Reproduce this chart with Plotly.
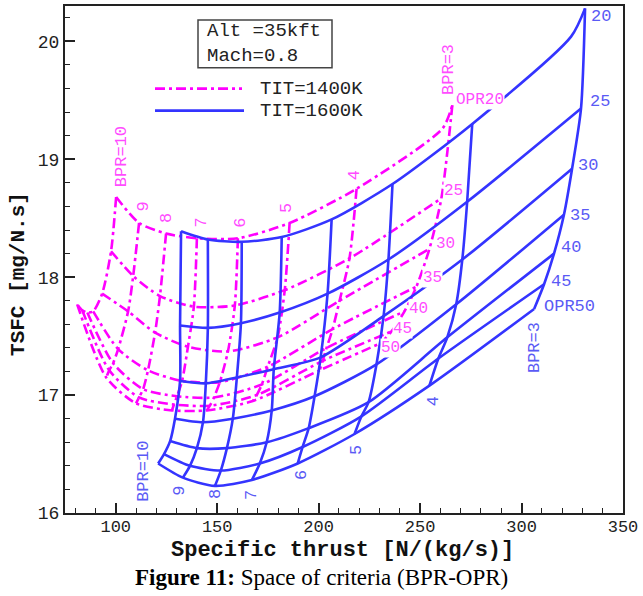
import plotly.graph_objects as go

BPR = [10, 9, 8, 7, 6, 5, 4, 3]
OPR = [20, 25, 30, 35, 40, 45, 50]

# TIT = 1600K : specific thrust [N/(kg/s)] and TSFC [mg/N.s]; rows = OPR, columns = BPR
st_1600 = [
    [132.2, 145.4, 162.1, 181.8, 206.4, 236.4, 275.7, 331.3],
    [131.7, 145.4, 161.7, 180.8, 204.4, 234.4, 273.2, 329.3],
    [131.7, 144.4, 159.7, 177.9, 201.0, 232.0, 270.8, 324.9],
    [129.2, 143.0, 157.7, 176.9, 198.0, 228.5, 267.8, 320.9],
    [126.8, 140.0, 154.8, 174.4, 195.1, 224.6, 263.4, 316.0],
    [123.8, 136.6, 151.8, 171.0, 192.1, 221.1, 259.0, 311.1],
    [120.9, 133.1, 148.9, 167.1, 189.7, 217.7, 254.6, 306.2],
]
tsfc_1600 = [
    [18.39, 18.32, 18.30, 18.34, 18.49, 18.79, 19.30, 20.28],
    [17.59, 17.57, 17.61, 17.70, 17.86, 18.15, 18.64, 19.43],
    [17.12, 17.10, 17.15, 17.22, 17.32, 17.67, 18.15, 18.92],
    [16.80, 16.77, 16.80, 16.87, 16.99, 17.26, 17.77, 18.53],
    [16.61, 16.55, 16.55, 16.60, 16.72, 16.94, 17.49, 18.20],
    [16.50, 16.40, 16.36, 16.42, 16.56, 16.82, 17.31, 17.94],
    [16.42, 16.30, 16.23, 16.28, 16.42, 16.67, 17.08, 17.73],
]
kink_1600 = (324.4, 20.04)   # extra point on OPR20 line between BPR 4 and 3

# TIT = 1400K
st_1400 = [
    [100.2, 111.5, 124.8, 140.0, 160.2, 185.7, 218.7, 265.9],
    [97.7, 108.6, 121.8, 138.5, 158.7, 183.3, 215.2, 260.5],
    [93.3, 106.1, 119.4, 135.6, 155.3, 179.8, 210.3, 254.6],
    [88.9, 101.2, 115.9, 132.7, 151.3, 174.9, 206.9, 248.2],
    [86.0, 98.7, 113.5, 130.2, 148.4, 172.0, 203.9, 242.3],
    [83.5, 96.8, 111.5, 128.7, 146.4, 169.5, 202.0, 235.9],
    [81.0, 95.3, 110.0, 127.7, 144.9, 167.6, 200.5, 230.5],
]
tsfc_1400 = [
    [18.68, 18.46, 18.37, 18.33, 18.33, 18.46, 18.75, 19.46],
    [18.22, 18.01, 17.84, 17.75, 17.76, 17.89, 18.16, 18.67],
    [17.86, 17.71, 17.53, 17.41, 17.37, 17.49, 17.80, 18.24],
    [17.71, 17.39, 17.21, 17.12, 17.11, 17.24, 17.56, 17.92],
    [17.70, 17.27, 17.05, 16.99, 16.98, 17.09, 17.40, 17.71],
    [17.72, 17.21, 16.98, 16.92, 16.91, 17.00, 17.29, 17.54],
    [17.77, 17.15, 16.93, 16.87, 16.87, 16.95, 17.21, 17.44],
]
kink_1400 = (261.0, 19.26)

# label texts and positions (data coords)
blue_row_labels = [("20", 339.0, 20.21), ("25", 338.6, 19.49), ("30", 332.7, 18.95),
                   ("35", 328.8, 18.52), ("40", 324.2, 18.25), ("45", 319.3, 17.96),
                   ("OPR50", 323.4, 17.75)]
blue_col_labels = [("BPR=10", 114.0, 16.35), ("9", 131.7, 16.19), ("8", 148.9, 16.16),
                   ("7", 167.0, 16.15), ("6", 191.2, 16.32), ("5", 218.7, 16.53),
                   ("4", 257.0, 16.95), ("BPR=3", 306.7, 17.40)]
mag_row_labels = [("OPR20", 279.6, 19.50), ("25", 266.4, 18.73), ("30", 262.4, 18.28),
                  ("35", 256.0, 17.99), ("40", 249.2, 17.73), ("45", 241.3, 17.56),
                  ("50", 235.4, 17.40)]
mag_col_labels = [("BPR=10", 103.2, 19.02), ("9", 113.5, 18.60), ("8", 125.1, 18.50),
                  ("7", 142.3, 18.46), ("6", 161.7, 18.46), ("5", 184.1, 18.59),
                  ("4", 217.7, 18.86), ("BPR=3", 263.9, 19.76)]

BLUE = "#3434ff"
MAG = "#ff00ff"
BLUE_TXT = "#5a5af5"
MAG_TXT = "#ff4cff"
MAG_DASH = "10px,4px,3px,4px"
MONO = "Liberation Mono"

fig = go.Figure()


def add_grid(st, ts, kink, color, dash):
    for i in range(len(OPR)):
        xs = list(st[i])
        ys = list(ts[i])
        if i == 0:
            xs.insert(7, kink[0])
            ys.insert(7, kink[1])
        fig.add_trace(go.Scatter(x=xs, y=ys, mode="lines",
                                 line=dict(color=color, width=2.6, dash=dash,
                                           shape="spline", smoothing=0.7),
                                 hoverinfo="skip"))
    for j in range(len(BPR)):
        xs = [st[i][j] for i in range(len(OPR))]
        ys = [ts[i][j] for i in range(len(OPR))]
        fig.add_trace(go.Scatter(x=xs, y=ys, mode="lines",
                                 line=dict(color=color, width=2.6, dash=dash,
                                           shape="spline", smoothing=0.7),
                                 hoverinfo="skip"))


add_grid(st_1400, tsfc_1400, kink_1400, MAG, MAG_DASH)
add_grid(st_1600, tsfc_1600, kink_1600, BLUE, "solid")

ann = []
for t, x, y in blue_row_labels:
    ann.append(dict(text=t, x=x, y=y, showarrow=False, bgcolor="white", borderpad=0,
                    font=dict(family=MONO, size=17, color=BLUE_TXT)))
for t, x, y in blue_col_labels:
    ann.append(dict(text=t, x=x, y=y, showarrow=False, textangle=-90, borderpad=0,
                    font=dict(family=MONO, size=17, color=BLUE_TXT)))
for t, x, y in mag_row_labels:
    ann.append(dict(text=t, x=x, y=y, showarrow=False, bgcolor="white", borderpad=0,
                    font=dict(family=MONO, size=16, color=MAG_TXT)))
for t, x, y in mag_col_labels:
    ann.append(dict(text=t, x=x, y=y, showarrow=False, textangle=-90, bgcolor="white",
                    borderpad=0, font=dict(family=MONO, size=17, color=MAG_TXT)))

# plot area in pixels: x 65..623, y 4..513
def px(x):
    return (x - 65) / 558.0


def py(y):
    return (513 - y) / 509.0


def paper_text(text, x, y, size, family=MONO, color="#222", xanchor="center",
               angle=0, align="center"):
    return dict(text=text, xref="paper", yref="paper", x=px(x), y=py(y),
                xanchor=xanchor, yanchor="middle", align=align, showarrow=False,
                textangle=angle, font=dict(family=family, size=size, color=color))


# info box
ann.append(paper_text("Alt =35kft<br>Mach=0.8", 205, 42, 19, xanchor="left", align="left"))
# legend texts
ann.append(paper_text("TIT=1400K", 258, 87, 19, xanchor="left"))
ann.append(paper_text("TIT=1600K", 258, 109, 19, xanchor="left"))
# axis titles and caption
ann.append(paper_text("<b>Specific thrust [N/(kg/s)]</b>", 342, 551, 22, color="#111"))
ann.append(paper_text("<b>TSFC [mg/N.s]</b>", 19, 273, 21, color="#111", angle=-90))
ann.append(paper_text("<b>Figure 11:</b> Space of criteria (BPR-OPR)", 321, 578, 23,
                      family="Liberation Serif", color="#000"))

shapes = [
    dict(type="rect", xref="paper", yref="paper", x0=px(198), x1=px(332),
         y0=py(18), y1=py(66), line=dict(color="#444", width=1.5)),
    dict(type="line", xref="paper", yref="paper", x0=px(155), x1=px(242),
         y0=py(87), y1=py(87), line=dict(color=MAG, width=2.6, dash=MAG_DASH)),
    dict(type="line", xref="paper", yref="paper", x0=px(155), x1=px(244),
         y0=py(109), y1=py(109), line=dict(color=BLUE, width=2.6)),
]

fig.update_layout(
    width=643, height=596, margin=dict(l=65, r=20, t=4, b=83),
    plot_bgcolor="white", paper_bgcolor="white", showlegend=False,
    annotations=ann, shapes=shapes,
    xaxis=dict(range=[75, 350], tick0=0, dtick=50, ticks="inside", ticklen=10,
               tickwidth=1.5, tickcolor="#222", ticklabelstandoff=-3,
               minor=dict(dtick=10, ticks="inside", ticklen=5, tickwidth=1, tickcolor="#222"),
               showline=True, linewidth=2, linecolor="#222", mirror=True,
               showgrid=False, zeroline=False,
               tickfont=dict(family=MONO, size=17, color="#222")),
    yaxis=dict(range=[16, 20.3], tick0=0, dtick=1, ticks="inside", ticklen=10,
               tickwidth=1.5, tickcolor="#222",
               minor=dict(dtick=0.2, ticks="inside", ticklen=5, tickwidth=1, tickcolor="#222"),
               showline=True, linewidth=2, linecolor="#222", mirror=True,
               showgrid=False, zeroline=False,
               tickfont=dict(family=MONO, size=18, color="#222")),
)

fig.write_html("out.html")
